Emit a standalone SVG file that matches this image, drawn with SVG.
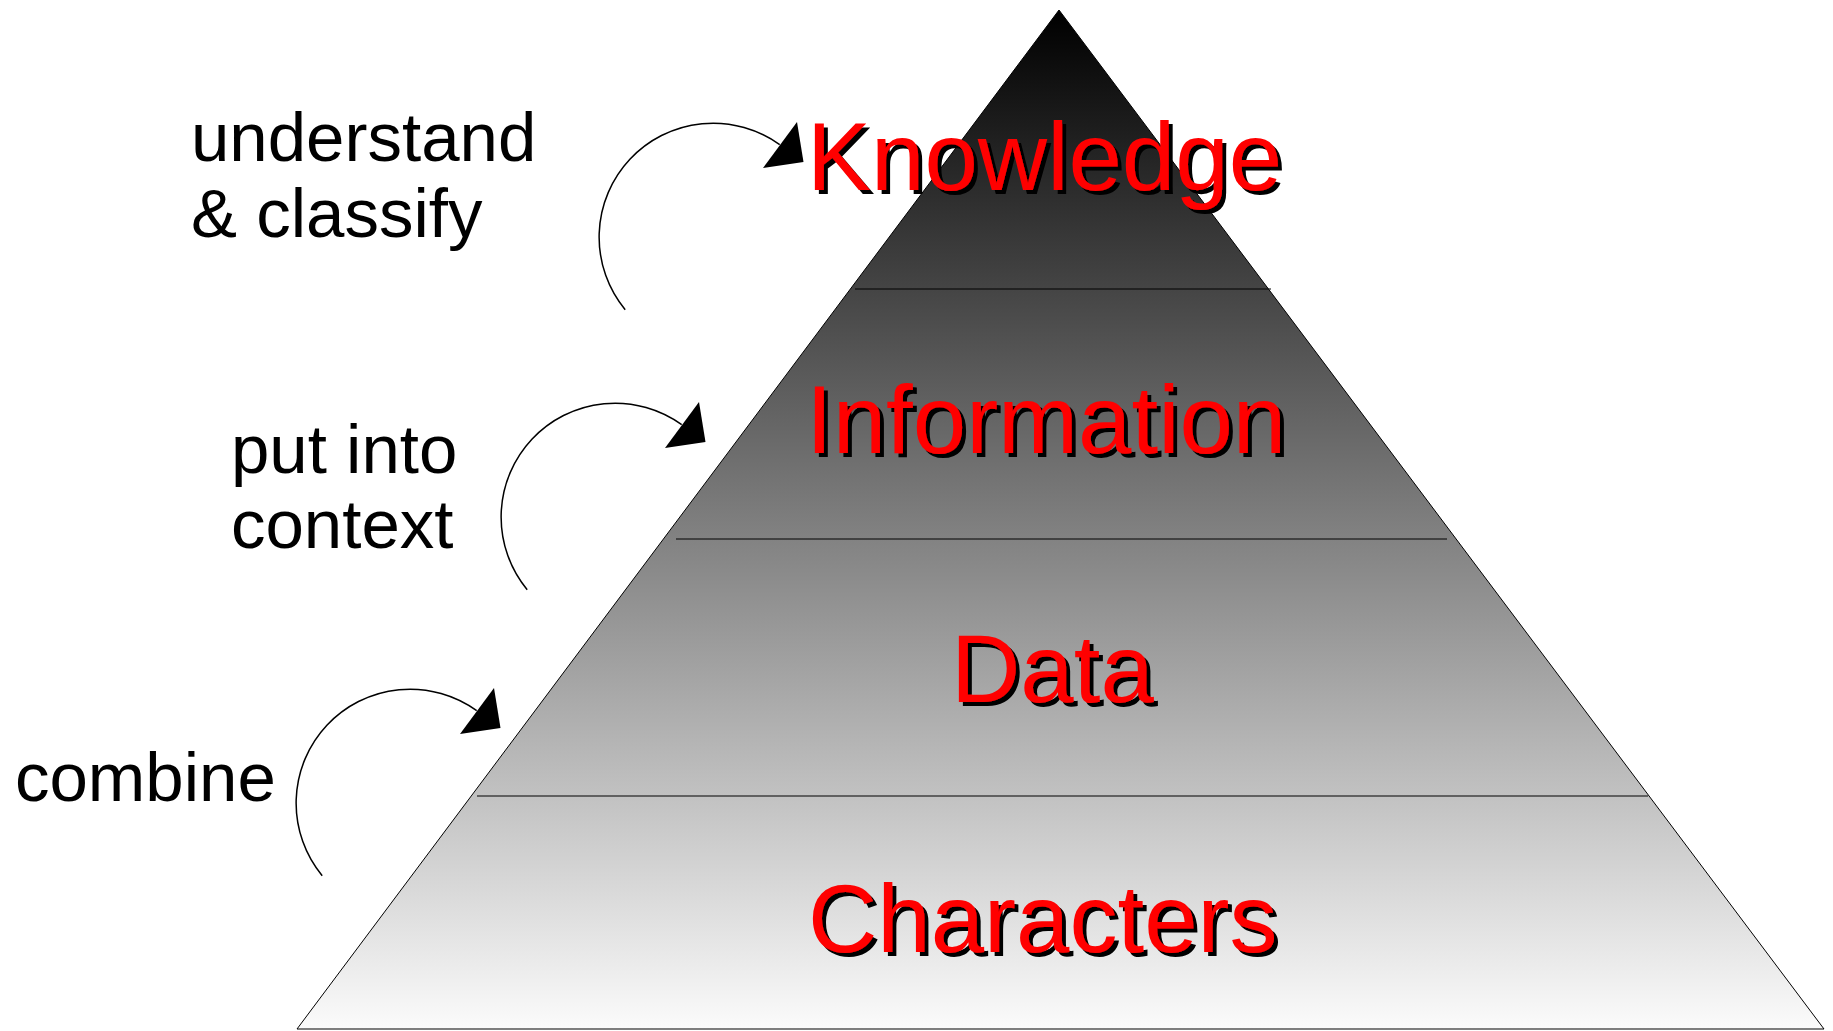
<svg xmlns="http://www.w3.org/2000/svg" width="1833" height="1031" viewBox="0 0 1833 1031">
  <defs>
    <linearGradient id="pyrFill" gradientUnits="userSpaceOnUse" x1="0" y1="10" x2="0" y2="1029">
      <stop offset="0" stop-color="#000000"/>
      <stop offset="1" stop-color="#fbfbfb"/>
    </linearGradient>
    <!-- hard black drop shadow for the level titles -->
    <filter id="hardShadow" x="-5%" y="-10%" width="110%" height="130%">
      <feOffset in="SourceAlpha" dx="4" dy="4" result="off"/>
      <feFlood flood-color="#000000"/>
      <feComposite in2="off" operator="in" result="shadow"/>
      <feMerge>
        <feMergeNode in="shadow"/>
        <feMergeNode in="SourceGraphic"/>
      </feMerge>
    </filter>
    <!-- curved "step up" arrow, drawn around its circle centre -->
    <g id="stepArrow">
      <path d="M -87.8 72.7 A 114 114 0 0 1 66.7 -92.4" fill="none" stroke="#000" stroke-width="1.5"/>
      <polygon points="84,-115 50,-69 90.5,-75" fill="#000"/>
    </g>
  </defs>
  <style>
    .level { font-family: "Liberation Sans", Arial, sans-serif; font-size: 96px; fill: #ff0000; filter: url(#hardShadow); }
    .step { font-family: "Liberation Sans", Arial, sans-serif; font-size: 69px; fill: #000; }
    .divider { stroke: #000; stroke-width: 1; }
  </style>

  <rect width="1833" height="1031" fill="#ffffff"/>

  <!-- pyramid body -->
  <g id="pyramid">
    <polygon points="1059,10 297,1029 1824,1029" fill="url(#pyrFill)" stroke="#000" stroke-width="1"/>
    <line class="divider" x1="855" y1="289" x2="1271" y2="289"/>
    <line class="divider" x1="676" y1="539" x2="1447" y2="539"/>
    <line class="divider" x1="477" y1="796" x2="1648" y2="796"/>
  </g>

  <!-- pyramid levels -->
  <g id="knowledge">
    <text class="level" x="807" y="190">Knowledge</text>
  </g>
  <g id="information">
    <text class="level" x="806" y="453">Information</text>
  </g>
  <g id="data">
    <text class="level" x="951" y="702">Data</text>
  </g>
  <g id="characters">
    <text class="level" x="808" y="952">Characters</text>
  </g>

  <!-- transition arrows -->
  <g id="connectors">
    <use href="#stepArrow" transform="translate(713,237)"/>
    <use href="#stepArrow" transform="translate(615,517)"/>
    <use href="#stepArrow" transform="translate(410,803)"/>
  </g>

  <!-- transition labels -->
  <g id="label-understand" class="step">
    <text x="191" y="161">understand</text>
    <text x="191" y="237">&amp; classify</text>
  </g>
  <g id="label-context" class="step">
    <text x="231" y="473">put into</text>
    <text x="231" y="548">context</text>
  </g>
  <g id="label-combine" class="step">
    <text x="15" y="801">combine</text>
  </g>
</svg>
